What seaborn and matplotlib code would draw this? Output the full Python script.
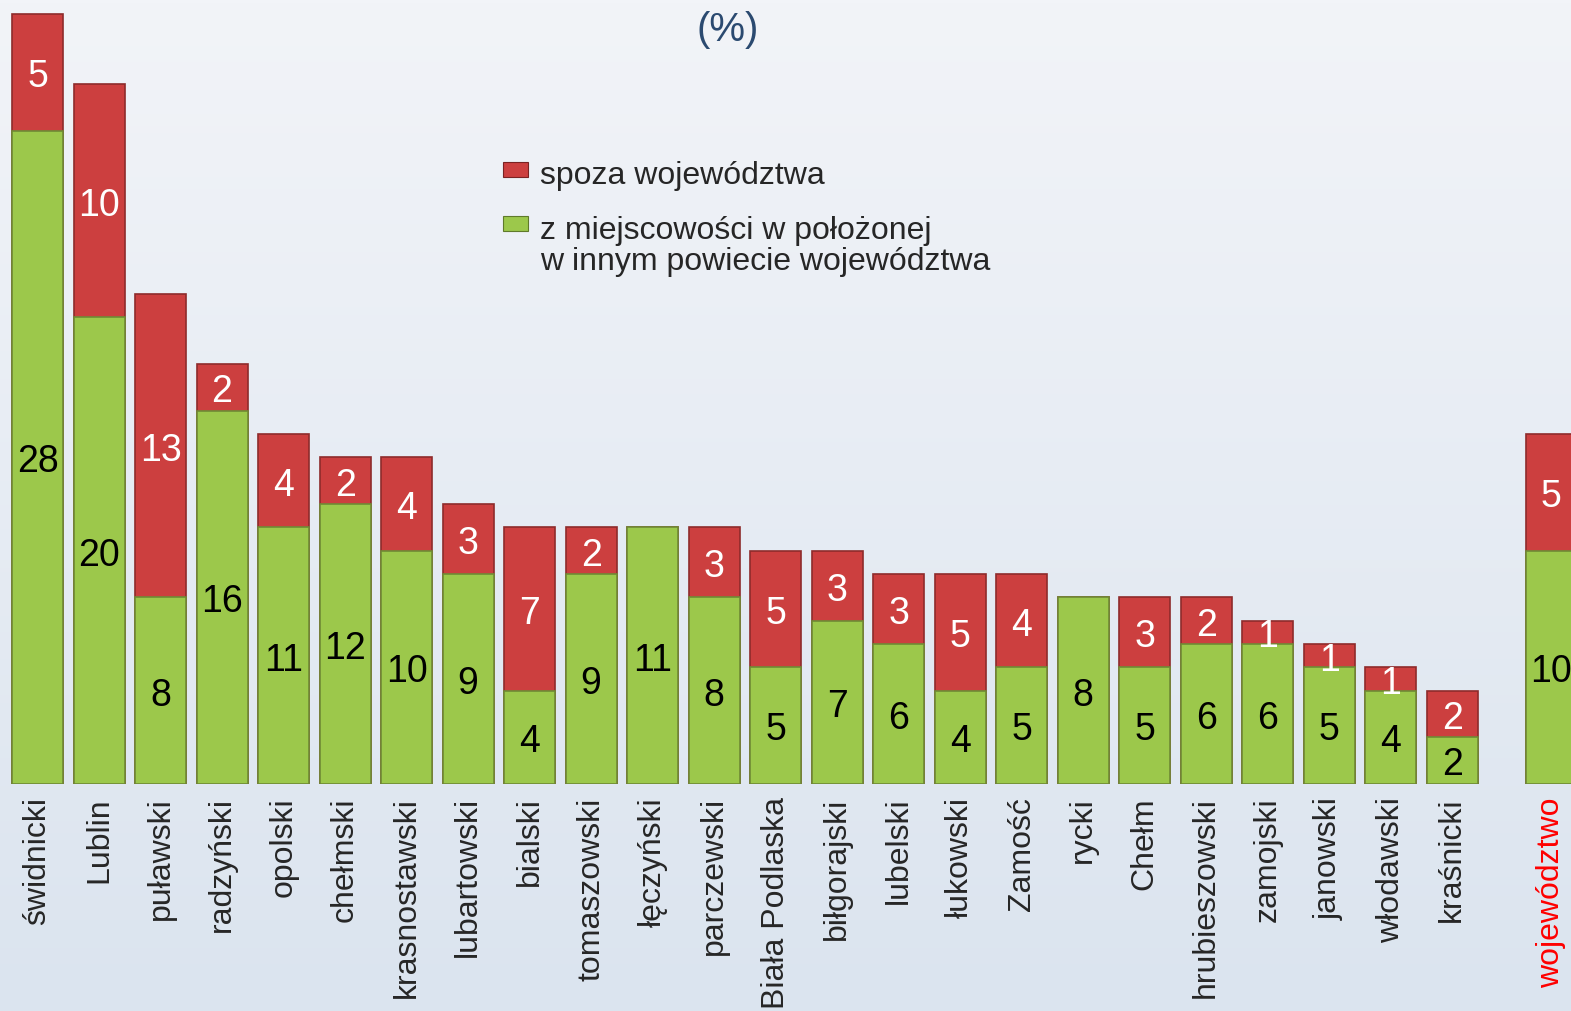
import numpy as np
import pandas as pd
import matplotlib
matplotlib.use("Agg")
import matplotlib.pyplot as plt
import seaborn as sns
from matplotlib.patches import Rectangle

# Data (%)
districts = ["świdnicki", "Lublin", "puławski", "radzyński", "opolski", "chełmski",
             "krasnostawski", "lubartowski", "bialski", "tomaszowski", "łęczyński",
             "parczewski", "Biała Podlaska", "biłgorajski", "lubelski", "łukowski",
             "Zamość", "rycki", "Chełm", "hrubieszowski", "zamojski", "janowski",
             "włodawski", "kraśnicki", "województwo"]
in_region = [28, 20, 8, 16, 11, 12, 10, 9, 4, 9, 11, 8, 5, 7, 6, 4, 5, 8, 5, 6, 6, 5, 4, 2, 10]
outside = [5, 10, 13, 2, 4, 2, 4, 3, 7, 2, 0, 3, 5, 3, 3, 5, 4, 0, 3, 2, 1, 1, 1, 2, 5]

RED = "#cc3f3f"
GREEN = "#9cc84b"

df = pd.DataFrame({"name": districts, "green": in_region, "red": outside})
df["total"] = df["green"] + df["red"]
# districts evenly spaced, the whole-region bar set apart
df["pos"] = np.append(np.arange(len(districts) - 1), len(districts) - 1 + 0.61)

sns.set_style("white")
plt.rcParams["font.family"] = ["Liberation Sans", "DejaVu Sans"]

fig = plt.figure(figsize=(15.71, 10.12), dpi=100)

# light gradient background
bg = fig.add_axes([0, 0, 1, 1], zorder=0)
grad = np.linspace(0, 1, 256).reshape(-1, 1)
bg.imshow(grad, aspect="auto", extent=[0, 1, 0, 1],
          cmap=matplotlib.colors.LinearSegmentedColormap.from_list("bg", ["#dbe4ef", "#f2f4f8"]),
          origin="lower")
bg.axis("off")

ax = fig.add_axes([0, 0.2245, 1, 0.7755], zorder=1)
ax.set_facecolor("none")

sns.barplot(data=df, x="pos", y="total", native_scale=True, orient="x", width=0.83,
            color=RED, saturation=1, errorbar=None, edgecolor="#8e2b2b", linewidth=1.2, ax=ax)
sns.barplot(data=df, x="pos", y="green", native_scale=True, orient="x", width=0.83,
            color=GREEN, saturation=1, errorbar=None, edgecolor="#6f8a35", linewidth=1.2, ax=ax)

for _, r in df.iterrows():
    ax.text(r["pos"], r["green"] / 2, str(r["green"]), ha="center", va="center_baseline",
            fontsize=27, color="black")
    if r["red"] > 0:
        ax.text(r["pos"], r["green"] + r["red"] / 2, str(r["red"]), ha="center",
                va="center_baseline", fontsize=27, color="white")

ax.set_xlim(-0.61, 24.93)
ax.set_ylim(0, 33.65)
ax.set_xticks(df["pos"])
ax.set_xticklabels(df["name"], rotation=90, fontsize=23, va="top")
ax.get_xticklabels()[-1].set_color("red")
ax.tick_params(axis="x", length=0, pad=9)
ax.set_yticks([])
ax.set_xlabel("")
ax.set_ylabel("")
for s in ax.spines.values():
    s.set_visible(False)

# title
fig.text(0.463, 0.970, "(%)", ha="center", va="center", fontsize=29, color="#2b4a70")

# legend, drawn by hand so the green key sits on the first line of its label
fig.add_artist(Rectangle((0.320, 0.8245), 0.016, 0.0148, transform=fig.transFigure,
                         facecolor=RED, edgecolor="#7a2222", linewidth=0.8))
fig.add_artist(Rectangle((0.320, 0.7707), 0.016, 0.0148, transform=fig.transFigure,
                         facecolor=GREEN, edgecolor="#5f7a2a", linewidth=0.8))
fig.text(0.344, 0.826, "spoza województwa", ha="left", va="center", fontsize=23)
fig.text(0.344, 0.772, "z miejscowości w położonej", ha="left", va="center", fontsize=23)
fig.text(0.344, 0.741, "w innym powiecie województwa", ha="left", va="center", fontsize=23)

fig.savefig("out.png", dpi=100)
